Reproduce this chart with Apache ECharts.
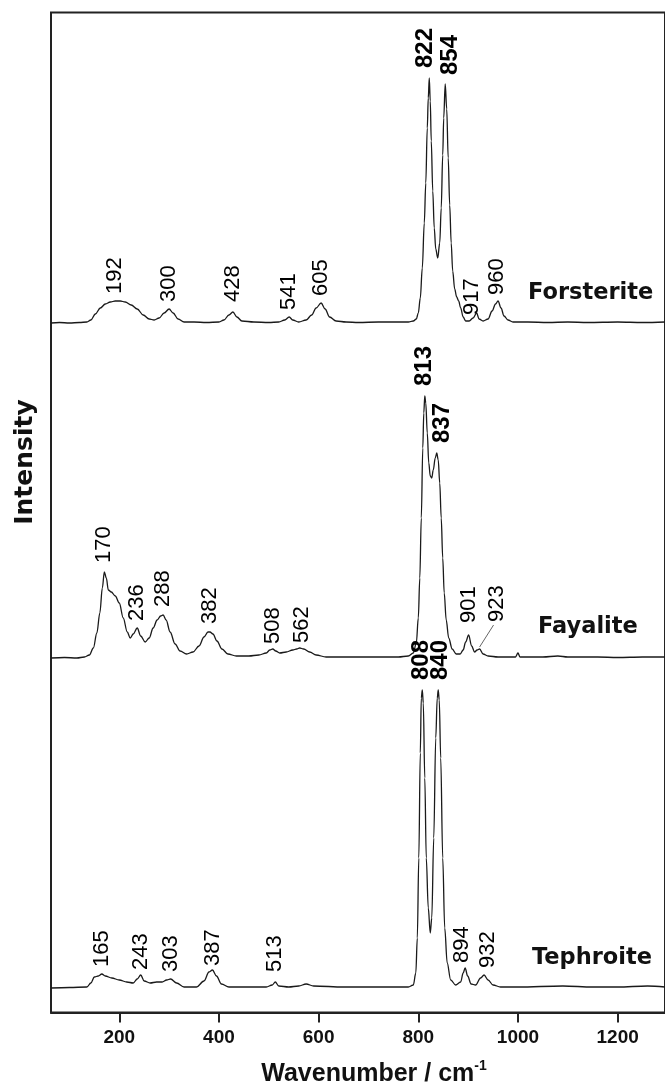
<!DOCTYPE html>
<html>
<head>
<meta charset="utf-8">
<script src="https://cdn.jsdelivr.net/npm/echarts@6/dist/echarts.min.js"></script>
<style>html,body{margin:0;padding:0;background:#fff}#c{width:665px;height:1084px}</style>
</head>
<body>
<div id="c"></div>
<script>
// ---------- data (wavenumber cm-1, relative intensity) ----------
const xTicks = [200, 400, 600, 800, 1000, 1200];
const spectrumNames = ['Forsterite', 'Fayalite', 'Tephroite'];
const spectrumOffsets = [689.5, 354.5, 24.5];

const forsterite = [
  [63,0],[80,0.5],[100,0],[120,0.5],[135,1],[143,3],[152,9],[162,15],[172,19],[182,21],[192,22],[202,22],[212,21],[224,18],[236,14],[248,8],[260,4],[270,3],[280,5],[290,10],[300,14],[308,10],[318,4],[330,1],[350,1],[375,0.5],[400,1],[410,3],[420,8],[428,11],[436,6],[446,2],[470,1],[500,0.5],[520,1],[532,3],[541,6],[548,3],[560,1],[575,3],[586,8],[595,15],[605,20],[613,14],[622,6],[635,2],[655,1],[680,0.5],[720,1],[760,1],[780,1],[790,2],[796,4],[800,10],[804,25],[808,55],[812,100],[815,140],[818,195],[820,225],[822,245],[824,222],[826,182],[829,132],[832,95],[835,74],[839,65],[843,80],[846,115],[849,168],[851,205],[854,239],[857,214],[860,165],[863,118],[866,80],[869,52],[873,34],[877,26],[881,22],[885,15],[890,6],[895,2],[902,2],[910,5],[917,10],[922,4],[930,2],[940,4],[948,12],[955,19],[960,22],[966,15],[972,7],[980,3],[990,1],[1020,1],[1060,0.5],[1100,1],[1140,0.5],[1200,1],[1250,0.5],[1295,1]
];
const fayalite = [
  [63,0],[90,0.5],[115,0],[130,1],[140,3],[148,10],[155,25],[161,45],[166,70],[170,86],[174,80],[178,68],[184,66],[192,62],[200,55],[208,40],[216,26],[222,20],[228,24],[236,30],[243,22],[252,16],[260,20],[268,30],[276,38],[283,42],[288,43],[294,38],[302,26],[312,14],[322,7],[335,4],[348,6],[360,12],[370,21],[378,26],[382,26],[388,24],[396,17],[406,9],[418,4],[435,2],[460,2],[480,3],[495,5],[502,8],[508,9],[514,7],[522,5],[535,6],[548,8],[556,9],[562,10],[570,9],[582,6],[595,3],[615,1],[660,1],[700,1],[760,1],[780,2],[790,5],[796,15],[800,40],[803,80],[806,140],[809,210],[811,245],[813,262],[815,255],[818,225],[821,195],[824,182],[827,180],[830,188],[834,200],[837,205],[840,198],[843,175],[846,140],[849,100],[852,65],[856,38],[861,20],[868,9],[876,4],[884,4],[890,8],[895,16],[901,23],[907,12],[913,6],[918,8],[923,9],[930,4],[940,2],[960,1],[995,1],[1000,5],[1004,1],[1050,1],[1080,2],[1100,1],[1160,1],[1200,0.5],[1250,1],[1295,1]
];
const tephroite = [
  [63,0],[100,0.5],[135,1],[143,5],[150,11],[158,12],[165,14],[172,12],[185,10],[200,8],[215,6],[228,5],[236,9],[243,13],[250,7],[262,5],[275,6],[286,6],[295,8],[303,9],[315,5],[330,1],[355,1],[370,7],[380,16],[387,18],[395,12],[405,4],[420,1],[495,1],[507,3],[513,6],[520,2],[540,1],[560,2],[575,4],[590,2],[650,1],[700,1],[780,1],[790,3],[795,15],[798,50],[801,130],[804,235],[806,290],[808,298],[810,285],[813,210],[816,130],[820,80],[824,55],[827,70],[831,150],[835,250],[838,290],[840,298],[842,288],[845,230],[849,130],[853,60],[858,25],[865,8],[875,3],[885,6],[890,15],[894,20],[899,12],[906,4],[915,3],[925,10],[932,13],[940,8],[950,3],[965,1],[1000,1],[1090,2],[1150,1],[1200,1],[1260,2],[1295,1]
];
const spectra = [forsterite, fayalite, tephroite];

const forsteritePeaks = ['192','300','428','541','605','822','854','917','960'];
const fayalitePeaks = ['170','236','288','382','508','562','813','837','901','923'];
const tephroitePeaks = ['165','243','303','387','513','808','840','894','932'];
const peakLists = [forsteritePeaks, fayalitePeaks, tephroitePeaks];
const boldPeaks = ['822','854','813','837','808','840'];

// ---------- layout (label nudges, px: dx horizontal, gap above the peak) ----------
const labelNudge = {
  '0:428': {gap: 10}, '0:822': {dx: -4, gap: 10}, '0:854': {dx: 5, gap: 9},
  '0:917': {dx: -5, gap: -2}, '0:960': {dx: -1, gap: 6},
  '1:170': {gap: 9}, '1:288': {gap: 8}, '1:382': {gap: 8}, '1:508': {gap: 5}, '1:562': {dx: 2, gap: 5},
  '1:813': {dx: 0, gap: 10}, '1:837': {dx: 6, gap: 10},
  '1:901': {gap: 12}, '1:923': {dx: 17, gap: 27},
  '2:243': {gap: 5}, '2:387': {gap: 4}, '2:513': {gap: 10},
  '2:808': {dx: -1, gap: 10}, '2:840': {dx: 2, gap: 10},
  '2:894': {dx: -3, gap: 5}, '2:932': {dx: 4, gap: 7}
};

function localMax(spec, v) {
  let m = 0;
  spec.forEach(([x, y]) => { if (Math.abs(x - v) <= 6 && y > m) m = y; });
  return m;
}

const series = [];
spectra.forEach((spec, i) => {
  const off = spectrumOffsets[i];
  series.push({
    type: 'line', name: spectrumNames[i], data: spec.map(([x, y]) => [x, y + off]),
    symbol: 'none', smooth: 0.35, smoothMonotone: 'x',
    lineStyle: {color: '#1a1a1a', width: 1.3}, silent: true, z: 3
  });
  const labelData = peakLists[i].map(p => {
    const v = +p;
    const nud = labelNudge[i + ':' + p] || {};
    const bold = boldPeaks.includes(p);
    const gap = nud.gap !== undefined ? nud.gap : 7;
    return {
      name: p,
      value: [v, off + localMax(spec, v) + gap],
      label: {
        // label is rotated 90deg, so offset[1] moves it horizontally
        offset: [0, nud.dx || 0],
        fontWeight: bold ? 'bold' : 'normal',
        fontSize: bold ? 24 : 22
      }
    };
  });
  series.push({
    type: 'scatter', data: labelData, symbolSize: 1,
    itemStyle: {color: 'rgba(0,0,0,0)', opacity: 1}, silent: true, z: 4,
    label: {
      show: true, position: 'inside', rotate: 90, align: 'left', verticalAlign: 'middle',
      formatter: '{b}', color: '#000', opacity: 1, textBorderWidth: 0,
      fontFamily: 'Liberation Sans, Arial, sans-serif'
    }
  });
});
// leader line for 923 (Fayalite)
(function () {
  const off = spectrumOffsets[1];
  const h = localMax(fayalite, 923);
  series.push({
    type: 'line', data: [[923, off + h + 2], [951, off + h + 24]], symbol: 'none',
    lineStyle: {color: '#666', width: 1}, silent: true, z: 3
  });
})();

const chart = echarts.init(document.getElementById('c'), null, {renderer: 'canvas'});
chart.setOption({
  animation: false,
  backgroundColor: '#fff',
  grid: {left: 51, right: -2, top: 12.5, bottom: 71.5, show: true, borderColor: '#222', borderWidth: 2},
  xAxis: {
    type: 'value', min: 63, max: 1295,
    axisLine: {show: true, lineStyle: {color: '#222', width: 2}},
    axisTick: {show: true, customValues: xTicks, length: 10, lineStyle: {color: '#222', width: 2}},
    axisLabel: {show: true, customValues: xTicks, formatter: v => String(v), margin: 16, color: '#111', fontWeight: 'bold', fontSize: 19, fontFamily: 'Liberation Sans, Arial, sans-serif'},
    splitLine: {show: false}
  },
  yAxis: {
    type: 'value', min: 0, max: 1000,
    axisLine: {show: false}, axisTick: {show: false}, axisLabel: {show: false}, splitLine: {show: false}
  },
  graphic: [
    {type: 'text', x: 25, y: 462, rotation: Math.PI / 2,
     style: {text: 'Intensity', font: 'bold 25px "DejaVu Sans"', fill: '#111', align: 'center', verticalAlign: 'middle', textAlign: 'center', textVerticalAlign: 'middle'}},
    {type: 'text', x: 374, y: 1073,
     style: {text: '{m|Wavenumber / cm}{s|-1}', fill: '#111', align: 'center', verticalAlign: 'middle', textAlign: 'center', textVerticalAlign: 'middle',
       rich: {m: {fontFamily: 'Liberation Sans', fontWeight: 'bold', fontSize: 25, lineHeight: 28, verticalAlign: 'bottom'},
              s: {fontFamily: 'Liberation Sans', fontWeight: 'bold', fontSize: 14, lineHeight: 28, verticalAlign: 'top', padding: [0, 0, 10, 0]}}}},
    {type: 'text', x: 528, y: 293, style: {text: 'Forsterite', font: 'bold 22.5px "DejaVu Sans"', fill: '#111', align: 'left', verticalAlign: 'middle', textAlign: 'left', textVerticalAlign: 'middle'}},
    {type: 'text', x: 538, y: 627, style: {text: 'Fayalite', font: 'bold 22.5px "DejaVu Sans"', fill: '#111', align: 'left', verticalAlign: 'middle', textAlign: 'left', textVerticalAlign: 'middle'}},
    {type: 'text', x: 532, y: 958, style: {text: 'Tephroite', font: 'bold 22.5px "DejaVu Sans"', fill: '#111', align: 'left', verticalAlign: 'middle', textAlign: 'left', textVerticalAlign: 'middle'}}
  ],
  series: series
});
</script>
</body>
</html>
